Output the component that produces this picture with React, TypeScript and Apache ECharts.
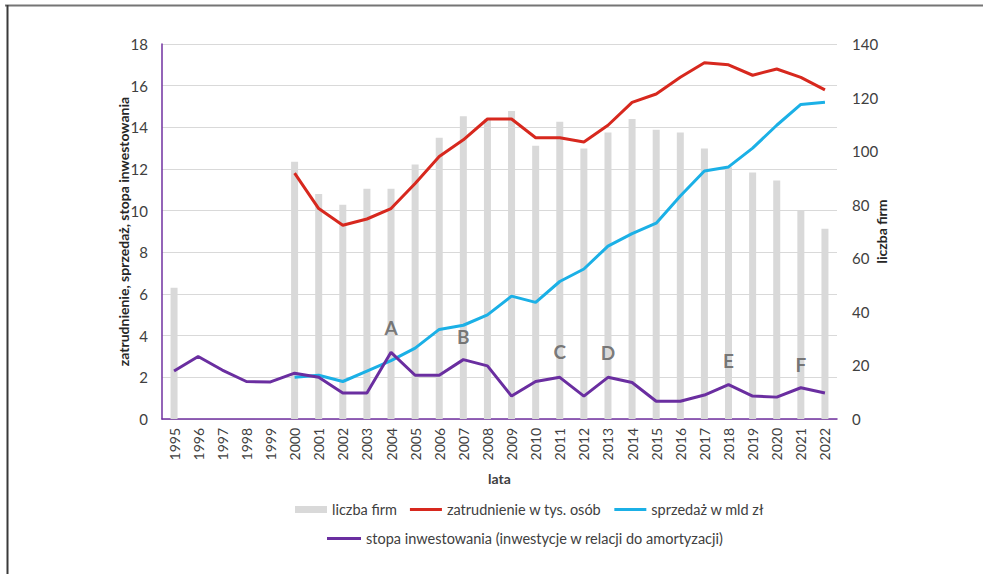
import React, { useEffect, useRef } from "react";
import * as echarts from "echarts";

const years = ["1995","1996","1997","1998","1999","2000","2001","2002","2003","2004","2005","2006","2007","2008","2009","2010","2011","2012","2013","2014","2015","2016","2017","2018","2019","2020","2021","2022"];

// liczba firm (right axis)
const firms: (number | null)[] = [49, null, null, null, null, 96, 84, 80, 86, 86, 95, 105, 113, 112, 115, 102, 111, 101, 107, 112, 108, 107, 101, 94, 92, 89, 78, 71];
// zatrudnienie w tys. osób
const employment: (number | null)[] = [null, null, null, null, null, 11.8, 10.1, 9.3, 9.6, 10.1, 11.3, 12.6, 13.4, 14.4, 14.4, 13.5, 13.5, 13.3, 14.1, 15.2, 15.6, 16.4, 17.1, 17.0, 16.5, 16.8, 16.4, 15.8];
// sprzedaż w mld zł
const sales: (number | null)[] = [null, null, null, null, null, 2.0, 2.1, 1.8, 2.3, 2.8, 3.4, 4.3, 4.5, 5.0, 5.9, 5.6, 6.6, 7.2, 8.3, 8.9, 9.4, 10.7, 11.9, 12.1, 13.0, 14.1, 15.1, 15.2];
// stopa inwestowania
const investRate: number[] = [2.3, 3.0, 2.35, 1.8, 1.78, 2.2, 2.0, 1.25, 1.25, 3.2, 2.1, 2.1, 2.85, 2.55, 1.1, 1.8, 2.0, 1.1, 2.0, 1.75, 0.85, 0.85, 1.15, 1.65, 1.1, 1.05, 1.5, 1.25];

// annotations
const annoYears = ["2004", "2007", "2011", "2013", "2018", "2021"];
const annoLetters = ["A", "B", "C", "D", "E", "F"];
const annoLevels = [4.37, 3.94, 3.22, 3.17, 2.83, 2.64];

const leftTicks = { min: 0, max: 18, interval: 2 };
const rightTicks = { min: 0, max: 140, interval: 20 };

const FONT = "Lato";
const LINE_ICON = "path://M0,0L32,0L32,3L0,3Z";

export default function App() {
  const ref = useRef<HTMLDivElement>(null);
  useEffect(() => {
    if (!ref.current) return;
    const chart = echarts.init(ref.current, null, { renderer: "svg" });
    const toNull = (a: (number | null)[]) => a.map((v) => (v === null ? "-" : v));
    chart.setOption({
      animation: false,
      backgroundColor: "#ffffff",
      textStyle: { fontFamily: FONT },
      graphic: [
        { type: "rect", shape: { x: 5, y: 4.5, width: 978, height: 2 }, style: { fill: "#757575" }, silent: true },
        { type: "rect", shape: { x: 6.5, y: 5, width: 2, height: 569 }, style: { fill: "#3a3a3a" }, silent: true },
      ],
      grid: { left: 162, right: 146, top: 44, bottom: 155, containLabel: false },
      legend: [
        {
          left: 290,
          top: 497,
          itemWidth: 32,
          itemHeight: 7,
          itemGap: 13,
          textStyle: { fontFamily: FONT, fontSize: 14.5, color: "#404040" },
          data: [
            { name: "liczba firm", icon: "rect" },
            { name: "zatrudnienie w tys. osób", icon: LINE_ICON },
            { name: "sprzedaż w mld zł", icon: LINE_ICON },
          ],
        },
        {
          left: 322,
          top: 526,
          itemWidth: 34,
          itemHeight: 7,
          textStyle: { fontFamily: FONT, fontSize: 14.5, color: "#404040" },
          data: [{ name: "stopa inwestowania (inwestycje w relacji do amortyzacji)", icon: LINE_ICON }],
        },
      ],
      xAxis: {
        type: "category",
        data: years,
        boundaryGap: true,
        name: "lata",
        nameLocation: "middle",
        nameGap: 52,
        nameTextStyle: { fontFamily: FONT, fontSize: 14, fontWeight: "bold", color: "#404040" },
        axisLine: { lineStyle: { color: "#7030a0", width: 1.5 } },
        axisTick: { show: false },
        axisLabel: { rotate: 90, fontSize: 14, color: "#404040", fontFamily: FONT, margin: 9, interval: 0 },
      },
      yAxis: [
        {
          type: "value",
          ...leftTicks,
          name: "zatrudnienie, sprzedaż, stopa inwestowania",
          nameLocation: "middle",
          nameRotate: 90,
          nameGap: 32,
          nameMoveOverlap: false,
          nameTextStyle: { fontFamily: FONT, fontSize: 14, fontWeight: "bold", color: "#262626" },
          axisLine: { show: true, lineStyle: { color: "#7030a0", width: 1.5 } },
          axisTick: { show: false },
          axisLabel: { fontSize: 15, color: "#404040", fontFamily: FONT, margin: 14 },
          splitLine: { show: true, lineStyle: { color: "#d9d9d9", width: 1 } },
        },
        {
          type: "value",
          ...rightTicks,
          position: "right",
          name: "liczba firm",
          nameLocation: "middle",
          nameRotate: 90,
          nameGap: 37,
          nameMoveOverlap: false,
          nameTextStyle: { fontFamily: FONT, fontSize: 14, fontWeight: "bold", color: "#262626" },
          axisLine: { show: false },
          axisTick: { show: false },
          axisLabel: { fontSize: 15, color: "#404040", fontFamily: FONT, margin: 15 },
          splitLine: { show: false },
        },
      ],
      series: [
        {
          name: "liczba firm",
          type: "bar",
          yAxisIndex: 1,
          data: toNull(firms),
          barWidth: 7,
          itemStyle: { color: "#d9d9d9" },
        },
        {
          name: "zatrudnienie w tys. osób",
          type: "line",
          data: toNull(employment),
          symbol: "none",
          lineStyle: { color: "#d7281e", width: 3 },
          itemStyle: { color: "#d7281e" },
        },
        {
          name: "sprzedaż w mld zł",
          type: "line",
          data: toNull(sales),
          symbol: "none",
          lineStyle: { color: "#1bb0e6", width: 3 },
          itemStyle: { color: "#1bb0e6" },
        },
        {
          name: "stopa inwestowania (inwestycje w relacji do amortyzacji)",
          type: "line",
          data: investRate,
          symbol: "none",
          lineStyle: { color: "#6a2ea0", width: 3 },
          itemStyle: { color: "#6a2ea0" },
        },
        {
          name: "annotations",
          type: "scatter",
          symbolSize: 1,
          itemStyle: { color: "rgba(0,0,0,0)" },
          data: annoYears.map((y, i) => [y, annoLevels[i]]),
          label: {
            show: true,
            position: "inside",
            formatter: (p: any) => annoLetters[p.dataIndex],
            fontFamily: FONT,
            fontSize: 19,
            fontWeight: "bold",
            color: "#595959",
          },
          z: 5,
        },
      ],
    });
    return () => chart.dispose();
  }, []);
  return (
    <div
      ref={ref}
      style={{ position: "absolute", left: 0, top: 0, width: 983, height: 574 }}
    />
  );
}
